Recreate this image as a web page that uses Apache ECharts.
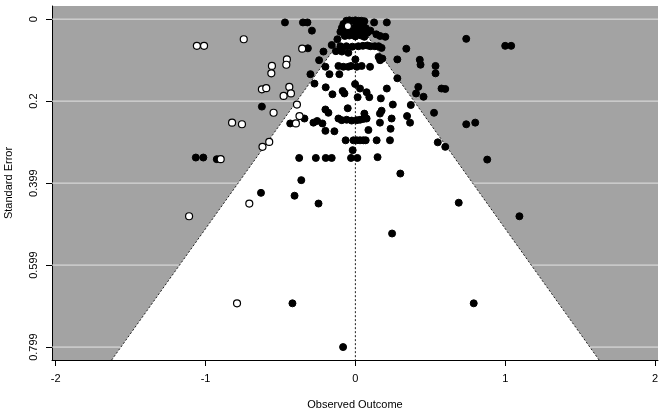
<!DOCTYPE html>
<html><head><meta charset="utf-8">
<script src="https://cdn.jsdelivr.net/npm/echarts@6/dist/echarts.min.js"></script>
<style>html,body{margin:0;padding:0;background:#fff}#c{width:666px;height:413px}</style>
</head><body><div id="c"></div>
<script>
// ---- data ----
const xTicks = [-2, -1, 0, 1, 2];
const yTicks = [0, 0.1996, 0.3993, 0.5989, 0.7985];
const yTickLabels = ['0', '0.2', '0.399', '0.599', '0.799'];
const estimate = 0;
const crit = 1.96;
const seBottom = 0.83;

const observedEffect = [
 -0.47,-0.35,-0.32,0.125,0.21,-0.29,
 -0.06,-0.04,-0.02,0.0,0.02,0.04,0.06,
 -0.08,-0.05,0.01,0.03,0.05,
 -0.09,-0.06,-0.03,0.0,0.03,0.07,
 -0.1,-0.07,-0.04,-0.01,0.02,0.05,0.08,
 -0.07,-0.04,0.0,0.04,0.06,
 0.042,0.065,0.1,0.14,0.165,0.2,
 -0.12,-0.158,-0.213,-0.242,-0.317,-0.13,-0.09,-0.047,
 -0.1,-0.06,-0.02,0.02,0.05,0.08,0.1,0.13,0.155,0.175,
 0.155,0.165,0.18,0.0,
 0.34,0.28,0.74,1.0,1.04,
 -0.2,-0.113,-0.08,-0.047,-0.029,0.009,0.042,0.098,
 -0.173,-0.107,-0.30,
 0.43,0.435,0.535,0.535,0.28,
 -0.273,-0.198,-0.153,-0.085,-0.073,
 -0.002,0.031,0.075,0.093,0.015,0.21,0.17,
 0.42,0.405,0.455,0.575,0.6,-0.624,
 0.25,0.37,0.525,
 -0.051,-0.2,-0.18,0.06,0.175,0.164,0.345,0.365,
 -0.34,-0.435,-0.28,-0.255,-0.22,-0.113,-0.091,
 -0.058,-0.025,0.009,0.031,0.053,0.075,
 0.164,0.242,0.087,0.235,-0.2,-0.14,0.74,0.8,
 -0.065,-0.013,0.009,0.031,0.053,0.069,0.142,0.231,
 -0.018,
 -0.375,-0.264,-0.198,-0.158,-0.029,0.013,0.148,
 0.55,0.6,0.88,
 -1.065,-1.015,-0.925,
 0.3,-0.361,-0.406,-0.246,-0.63,
 0.69,1.095,0.245,-0.42,0.79,-0.082
];
const observedSE = [
 0.008,0.008,0.008,0.008,0.008,0.028,
 0.004,0.003,0.004,0.003,0.004,0.004,0.005,
 0.012,0.013,0.012,0.011,0.013,
 0.021,0.02,0.022,0.02,0.021,0.022,
 0.031,0.03,0.032,0.03,0.031,0.029,0.033,
 0.041,0.04,0.042,0.04,0.043,
 0.034,0.029,0.028,0.037,0.041,0.043,
 0.049,0.063,0.079,0.1,0.071,0.078,0.079,0.082,
 0.066,0.066,0.067,0.066,0.065,0.064,0.066,0.066,0.066,0.07,
 0.092,0.1,0.096,0.098,
 0.072,0.098,0.048,0.065,0.065,
 0.116,0.114,0.116,0.116,0.114,0.116,0.114,0.116,
 0.134,0.134,0.134,
 0.099,0.111,0.114,0.132,0.144,
 0.157,0.166,0.183,0.175,0.181,
 0.158,0.169,0.178,0.19,0.19,0.169,0.193,
 0.165,0.181,0.189,0.169,0.17,0.213,
 0.208,0.209,0.228,
 0.217,0.22,0.228,0.23,0.223,0.23,0.236,0.252,
 0.242,0.254,0.252,0.248,0.254,0.242,0.246,
 0.245,0.247,0.246,0.245,0.243,0.242,
 0.252,0.242,0.27,0.267,0.272,0.273,0.256,0.252,
 0.295,0.295,0.295,0.295,0.295,0.295,0.295,0.295,
 0.319,
 0.338,0.338,0.338,0.338,0.338,0.338,0.336,
 0.3,0.311,0.342,
 0.337,0.337,0.341,
 0.376,0.392,0.43,0.449,0.423,
 0.447,0.48,0.522,0.692,0.692,0.7985
];
const filledEffect = [
 -0.745,-1.058,-1.01,-0.355,-0.457,-0.461,-0.557,-0.561,-0.624,-0.595,
 -0.441,-0.43,-0.479,-0.39,-0.546,-0.373,-0.823,-0.757,-0.397,-0.575,
 -0.62,-0.899,-0.708,-1.11,-0.79,-0.05
];
const filledSE = [
 0.049,0.065,0.065,0.072,0.098,0.111,0.114,0.132,0.171,0.168,
 0.165,0.181,0.187,0.208,0.228,0.236,0.252,0.256,0.254,0.299,
 0.311,0.341,0.449,0.48,0.692,0.017
];

// ---- chart ----
const xMin = -2.025, xMax = 2.02, yMin = -0.032, yMax = 0.83;
const FONT = '"Liberation Sans", Arial, Helvetica, sans-serif';
const chart = echarts.init(document.getElementById('c'), null, {renderer: 'canvas'});
const pairs = (xs, ys) => xs.map((v, i) => [v, ys[i]]);

chart.setOption({
  animation: false,
  textStyle: {fontFamily: FONT},
  grid: {left: 52, right: 8, top: 6, bottom: 53, show: true, backgroundColor: '#a3a3a3', borderWidth: 0,
         containLabel: false, outerBoundsMode: 'none'},
  xAxis: {
    type: 'value', min: xMin, max: xMax,
    axisLine: {show: true, onZero: false, lineStyle: {color: '#000', width: 1}},
    axisTick: {show: true, customValues: xTicks, length: 6, lineStyle: {color: '#000'}},
    axisLabel: {customValues: xTicks, margin: 13, fontSize: 11, color: '#000', fontFamily: FONT},
    splitLine: {show: false},
    name: 'Observed Outcome', nameLocation: 'middle', nameGap: 39,
    nameTextStyle: {fontSize: 11, color: '#000', fontFamily: FONT}
  },
  yAxis: {
    type: 'value', inverse: true, min: yMin, max: yMax,
    axisLine: {show: true, onZero: false, lineStyle: {color: '#000', width: 1}},
    axisTick: {show: true, customValues: yTicks, length: 6, lineStyle: {color: '#000'}},
    axisLabel: {
      customValues: yTicks, rotate: 90, margin: 13, fontSize: 11, color: '#000', fontFamily: FONT,
      formatter: v => { const i = yTicks.findIndex(t => Math.abs(t - v) < 1e-6); return i >= 0 ? yTickLabels[i] : ''; }
    },
    splitLine: {show: false},
    name: 'Standard Error', nameLocation: 'middle', nameGap: 38,
    nameTextStyle: {fontSize: 11, color: '#000', fontFamily: FONT}
  },
  series: [
    { // horizontal reference lines at the y ticks
      type: 'custom', z: 1, silent: true,
      data: yTicks.map(v => [xMin, v]),
      renderItem: (params, api) => {
        const p = api.coord([xMin, api.value(1)]);
        const cs = params.coordSys;
        return {type: 'line', shape: {x1: cs.x, y1: p[1], x2: cs.x + cs.width, y2: p[1]},
                style: {stroke: '#e4e4e4', lineWidth: 1}};
      }
    },
    { // funnel
      type: 'custom', z: 2, silent: true,
      data: [[estimate, seBottom]],
      renderItem: (params, api) => {
        const L = api.coord([estimate - crit * seBottom, seBottom]);
        const A = api.coord([estimate, 0]);
        const R = api.coord([estimate + crit * seBottom, seBottom]);
        const B = api.coord([estimate, seBottom]);
        const dash = {stroke: '#222', lineWidth: 1, lineDash: [2, 2], fill: null};
        return {type: 'group', children: [
          {type: 'polygon', shape: {points: [L, A, R]}, style: {fill: '#fff', stroke: null}},
          {type: 'polyline', shape: {points: [L, A, R]}, style: dash},
          {type: 'line', shape: {x1: A[0], y1: A[1], x2: B[0], y2: B[1]}, style: dash}
        ]};
      }
    },
    {
      type: 'scatter', z: 3, silent: true, symbol: 'circle', symbolSize: 7,
      data: pairs(observedEffect, observedSE),
      itemStyle: {color: '#000', borderColor: '#000', borderWidth: 1, opacity: 1}
    },
    {
      type: 'scatter', z: 4, silent: true, symbol: 'circle', symbolSize: 7,
      data: pairs(filledEffect, filledSE),
      itemStyle: {color: '#fff', borderColor: '#000', borderWidth: 1.2, opacity: 1}
    }
  ]
});
</script>
</body></html>
